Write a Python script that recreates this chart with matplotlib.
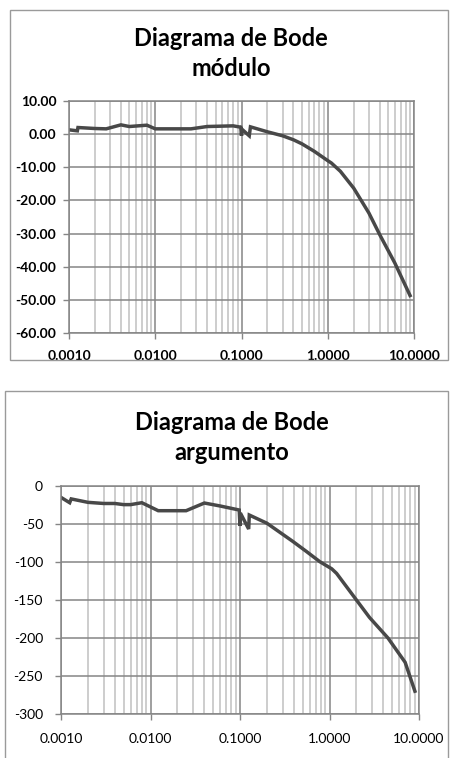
import matplotlib
matplotlib.use("Agg")
import matplotlib.pyplot as plt
from matplotlib.patches import Rectangle
from matplotlib.ticker import FixedLocator, LogLocator, NullFormatter

# ---- data ----
freq_mod = [0.001, 0.00125, 0.00127, 0.002, 0.0027, 0.004, 0.005, 0.008, 0.01,
            0.026, 0.04, 0.08, 0.098, 0.1, 0.101, 0.123, 0.127, 0.2, 0.3, 0.4,
            0.5, 0.7, 1.0, 1.1, 1.4, 2.0, 3.0, 4.0, 6.0, 9.0]
mod_db = [1.3, 1.0, 2.0, 1.7, 1.6, 2.8, 2.3, 2.7, 1.6,
          1.6, 2.3, 2.5, 2.1, -0.5, 1.5, -0.5, 2.2, 0.7, -0.5, -1.7,
          -2.9, -5.2, -8.0, -8.7, -11.2, -16.3, -23.8, -30.3, -38.9, -48.7]

freq_arg = [0.001, 0.00125, 0.0013, 0.002, 0.003, 0.004, 0.005, 0.006, 0.008,
            0.0122, 0.025, 0.04, 0.06, 0.098, 0.1, 0.101, 0.125, 0.127, 0.2,
            0.39, 0.55, 0.78, 1.06, 1.2, 2.0, 2.8, 4.5, 7.0, 9.0]
arg_deg = [-15, -22, -17, -21.5, -23, -23, -24.5, -24.5, -22,
           -32.5, -32.5, -22.4, -26.3, -31.6, -52.6, -35.6, -56.6, -38.2, -49,
           -73, -86, -99.6, -109, -115, -150, -173, -200, -232, -270]

xticks = [0.001, 0.01, 0.1, 1, 10]
xtick_labels = ["0.0010", "0.0100", "0.1000", "1.0000", "10.0000"]
mod_yticks = [10, 0, -10, -20, -30, -40, -50, -60]
mod_ylabels = ["10.00", "0.00", "-10.00", "-20.00", "-30.00", "-40.00", "-50.00", "-60.00"]
arg_yticks = [0, -50, -100, -150, -200, -250, -300]
arg_ylabels = ["0", "-50", "-100", "-150", "-200", "-250", "-300"]

W, H = 451, 758
fig = plt.figure(figsize=(W / 100, H / 100), dpi=100)
fig.patch.set_facecolor("white")

FONT = "Lato"
LINE = "#484848"
MAJ = "#858585"
MIN = "#c0c0c0"

def frac_rect(x0, y0, x1, y1):
    return [x0 / W, 1 - y1 / H, (x1 - x0) / W, (y1 - y0) / H]

# chart frames
fig.patches.append(Rectangle((10 / W, 1 - 360 / H), 438 / W, 350 / H,
                             transform=fig.transFigure, fill=False,
                             edgecolor="#9a9a9a", linewidth=1.0))
fig.patches.append(Rectangle((5 / W, -0.01), 443 / W, 1 - 391 / H + 0.01,
                             transform=fig.transFigure, fill=False,
                             edgecolor="#9a9a9a", linewidth=1.0))

def setup(ax, yticks, ylabels, ylim, bold):
    ax.set_xscale("log")
    ax.set_xlim(0.001, 10)
    ax.set_ylim(*ylim)
    ax.xaxis.set_major_locator(FixedLocator(xticks))
    ax.xaxis.set_minor_locator(LogLocator(base=10, subs=range(2, 10), numticks=20))
    ax.xaxis.set_minor_formatter(NullFormatter())
    ax.set_xticklabels(xtick_labels)
    ax.set_yticks(yticks)
    ax.set_yticklabels(ylabels)
    ax.grid(True, which="minor", axis="x", color=MIN, linewidth=1.1)
    ax.grid(True, which="major", axis="x", color=MAJ, linewidth=1.1)
    ax.grid(True, which="major", axis="y", color=MAJ, linewidth=1.1)
    ax.set_axisbelow(True)
    for s in ax.spines.values():
        s.set_color(MAJ)
        s.set_linewidth(1.1)
    ax.tick_params(axis="both", which="major", length=4, color=MAJ, width=1.0,
                   pad=6, labelsize=10, labelcolor="black")
    ax.tick_params(axis="x", which="minor", length=0)
    for lab in ax.get_xticklabels() + ax.get_yticklabels():
        lab.set_fontfamily(FONT)
        lab.set_fontweight("bold" if bold else "normal")

ax1 = fig.add_axes(frac_rect(69, 101, 414, 333))
ax1.plot(freq_mod, mod_db, color=LINE, linewidth=2.5, solid_joinstyle="miter")
setup(ax1, mod_yticks, mod_ylabels, (-60, 10), True)
ax1.tick_params(axis="x", pad=8)
ax1.tick_params(axis="y", pad=5)

ax2 = fig.add_axes(frac_rect(61, 486, 419, 714))
ax2.plot(freq_arg, arg_deg, color=LINE, linewidth=2.5, solid_joinstyle="miter")
setup(ax2, arg_yticks, arg_ylabels, (-300, 0), False)
ax2.tick_params(axis="x", pad=10)
ax2.tick_params(axis="y", pad=9)

tkw = dict(ha="center", va="center", fontsize=17, fontweight="bold", family=FONT)
fig.text(231 / W, 1 - 38 / H, "Diagrama de Bode", **tkw)
fig.text(231 / W, 1 - 68 / H, "módulo", **tkw)
fig.text(232 / W, 1 - 422 / H, "Diagrama de Bode", **tkw)
fig.text(232 / W, 1 - 452 / H, "argumento", **tkw)

fig.savefig("out.png", dpi=100, facecolor="white")
